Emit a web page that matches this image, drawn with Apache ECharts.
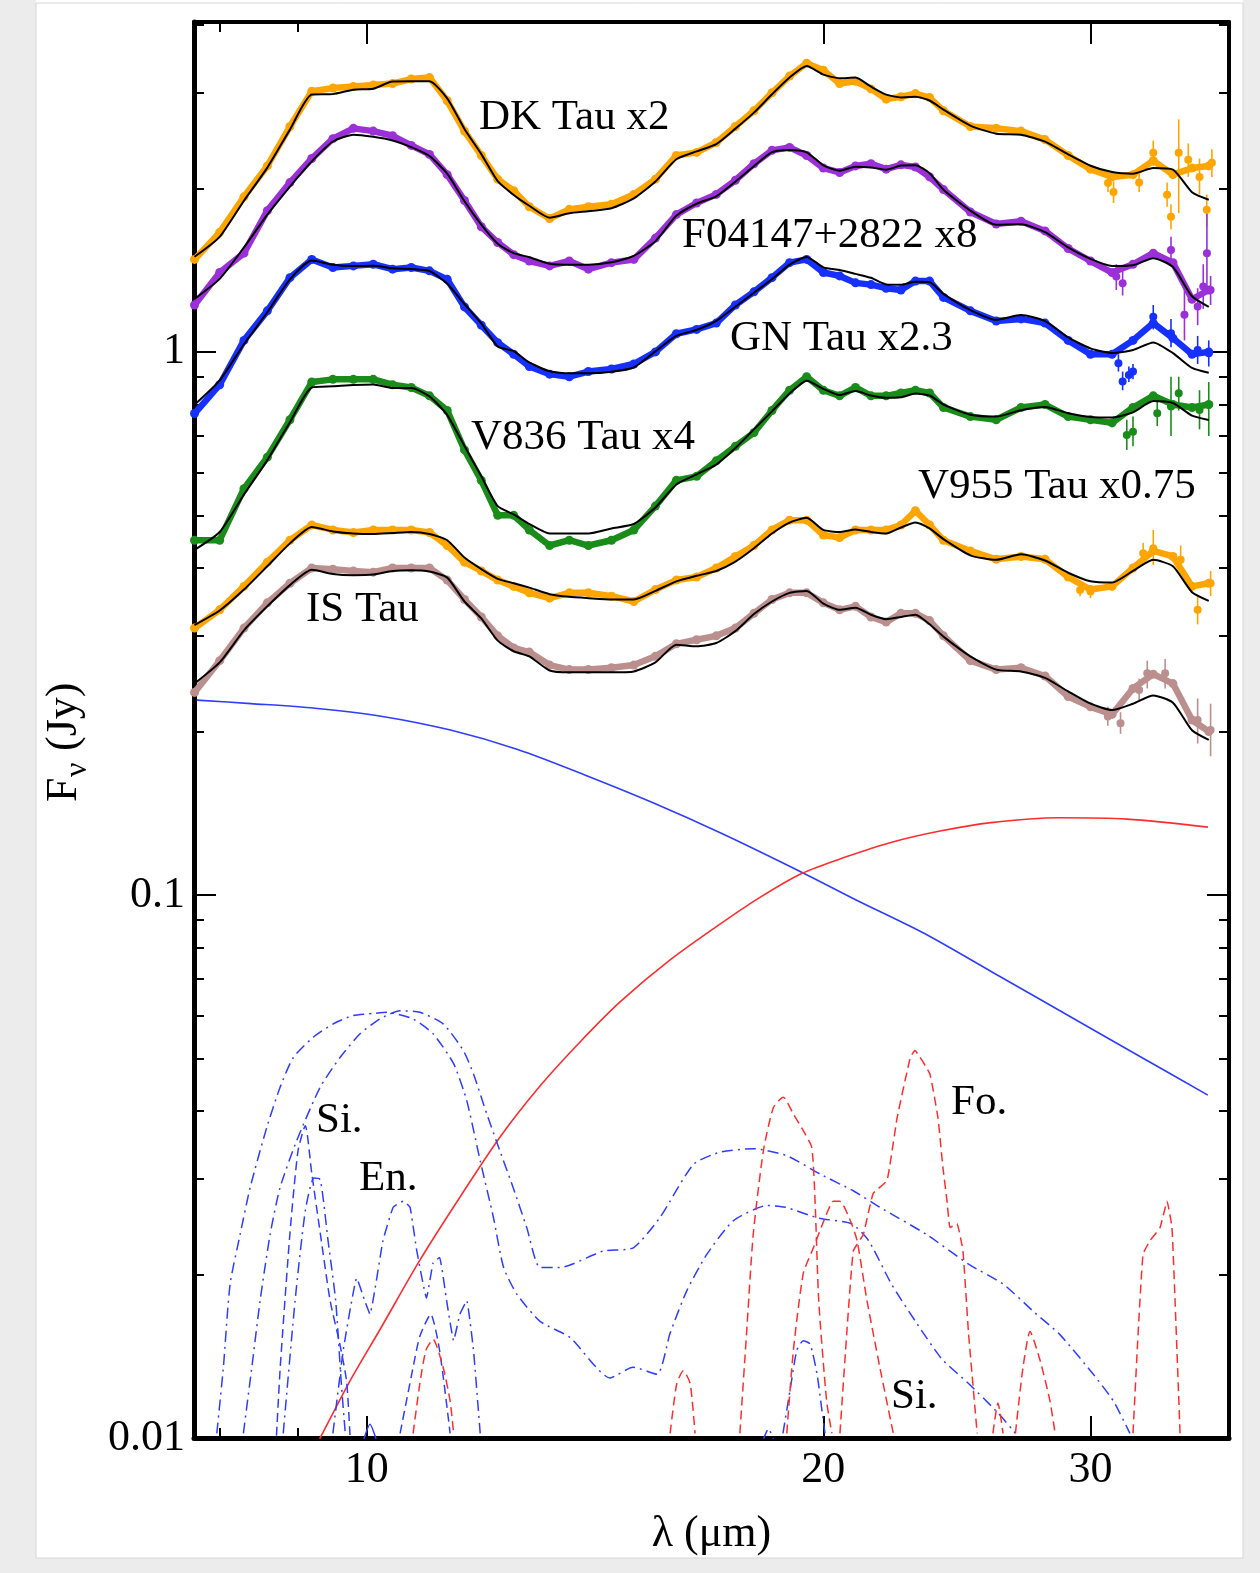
<!DOCTYPE html>
<html><head><meta charset="utf-8">
<script src="https://cdn.jsdelivr.net/npm/echarts@6/dist/echarts.min.js"></script>
<style>html,body{margin:0;padding:0;background:#fff}#c{width:1260px;height:1573px}</style>
</head><body><div id="c"></div><script>
// ---------------- data ----------------
const wavelength = [7.7,8.0,8.3,8.6,8.9,9.2,9.5,9.8,10.1,10.4,10.7,11.0,11.3,11.6,11.9,12.2,12.5,12.8,13.2,13.6,14.0,14.5,15.0,15.5,16.0,16.5,17.0,17.5,18.0,18.5,19.0,19.5,20.0,20.5,21.0,21.5,22.0,22.5,23.0,23.5,24.0,25.0,26.0,27.0,28.0,29.0,30.0,31.0,32.0,33.0,34.0,35.0,35.9];

const dkTauModel = [1.497,1.629,1.898,2.184,2.566,2.977,2.983,3.040,3.053,3.146,3.150,3.150,2.930,2.573,2.313,2.062,1.945,1.858,1.766,1.800,1.816,1.839,1.917,2.060,2.263,2.340,2.413,2.577,2.758,2.981,3.201,3.361,3.240,3.190,3.200,3.079,2.977,2.942,2.951,2.903,2.793,2.610,2.522,2.512,2.438,2.310,2.202,2.144,2.129,2.180,2.165,1.968,1.906];
const dkTauObs   = [1.48,1.66,1.93,2.20,2.60,3.02,3.06,3.08,3.10,3.12,3.18,3.20,2.90,2.55,2.30,2.08,1.98,1.85,1.76,1.83,1.85,1.87,1.95,2.08,2.30,2.33,2.43,2.60,2.78,3.00,3.22,3.40,3.30,3.12,3.15,3.05,2.92,2.95,2.99,2.94,2.78,2.60,2.58,2.55,2.46,2.30,2.17,2.10,2.12,2.25,2.12,2.18,2.20];
const dkTailLam = [30.81,31.07,32.3,33.0,33.7,33.9,34.3,34.8,35.4,35.79,36.07];
const dkTailVal = [2.047,1.97,2.05,2.326,1.946,1.773,2.326,2.258,2.10,1.826,2.229];
const dkTailLo  = [1.97,1.88,1.97,2.20,1.85,1.68,1.80,2.10,1.95,1.70,2.10];
const dkTailHi  = [2.13,2.06,2.13,2.45,2.05,1.87,2.68,2.42,2.27,1.95,2.36];

const f04147Model = [1.252,1.363,1.557,1.789,2.016,2.243,2.440,2.512,2.490,2.451,2.382,2.294,2.129,1.894,1.715,1.582,1.520,1.494,1.453,1.447,1.447,1.462,1.503,1.599,1.781,1.874,1.934,2.058,2.197,2.332,2.354,2.331,2.205,2.156,2.193,2.186,2.165,2.203,2.207,2.133,1.989,1.820,1.714,1.718,1.661,1.557,1.483,1.439,1.444,1.488,1.433,1.266,1.210];
const f04147Obs   = [1.22,1.40,1.52,1.82,2.05,2.27,2.47,2.58,2.55,2.50,2.40,2.31,2.12,1.90,1.70,1.59,1.51,1.47,1.44,1.47,1.42,1.46,1.48,1.62,1.79,1.88,1.95,2.07,2.22,2.35,2.38,2.30,2.18,2.14,2.20,2.22,2.17,2.21,2.19,2.10,1.99,1.81,1.72,1.74,1.67,1.55,1.47,1.40,1.45,1.52,1.46,1.25,1.30];
const f04TailLam = [31.2,31.5,33.9,34.6,35.3,35.6,35.8,36.0];
const f04TailVal = [1.376,1.338,1.541,1.170,1.212,1.319,1.520,1.300];
const f04TailLo  = [1.30,1.27,1.45,1.05,1.12,1.20,1.30,1.22];
const f04TailHi  = [1.45,1.41,1.63,1.30,1.31,1.45,1.80,1.38];

const gnTauModel = [0.799,0.886,1.033,1.183,1.360,1.473,1.447,1.439,1.441,1.426,1.421,1.409,1.335,1.225,1.128,1.023,1.003,0.956,0.921,0.913,0.913,0.919,0.936,1.002,1.070,1.098,1.141,1.211,1.285,1.361,1.448,1.496,1.431,1.415,1.392,1.369,1.331,1.329,1.346,1.344,1.279,1.194,1.146,1.169,1.139,1.063,1.015,0.995,1.008,1.041,0.995,0.934,0.915];
const gnTauObs   = [0.77,0.87,1.05,1.19,1.37,1.48,1.43,1.44,1.45,1.42,1.43,1.41,1.36,1.21,1.12,1.04,0.99,0.94,0.91,0.90,0.92,0.93,0.95,1.00,1.08,1.10,1.13,1.22,1.29,1.37,1.46,1.48,1.40,1.38,1.34,1.33,1.31,1.30,1.35,1.35,1.26,1.19,1.14,1.15,1.13,1.05,0.99,0.99,1.05,1.13,1.06,0.99,1.00];
const gnTailLam = [31.3,31.5,31.8,32.0,33.0,33.9,35.3,35.9];
const gnTailVal = [0.953,0.882,0.907,0.920,1.161,1.082,1.008,0.994];
const gnTailLo  = [0.92,0.85,0.88,0.89,1.10,1.02,0.95,0.94];
const gnTailHi  = [0.99,0.92,0.94,0.95,1.22,1.15,1.07,1.05];

const v836Model = [0.432,0.466,0.546,0.632,0.742,0.860,0.864,0.869,0.871,0.858,0.858,0.828,0.765,0.671,0.590,0.520,0.502,0.482,0.463,0.463,0.463,0.473,0.482,0.517,0.570,0.595,0.620,0.665,0.720,0.777,0.838,0.885,0.855,0.833,0.847,0.831,0.823,0.825,0.838,0.831,0.800,0.766,0.760,0.781,0.792,0.771,0.759,0.757,0.774,0.812,0.805,0.763,0.749];
const v836Obs   = [0.45,0.45,0.56,0.64,0.75,0.88,0.89,0.89,0.89,0.87,0.86,0.83,0.78,0.66,0.58,0.50,0.50,0.47,0.44,0.45,0.44,0.45,0.47,0.52,0.58,0.59,0.63,0.67,0.71,0.78,0.85,0.90,0.85,0.83,0.86,0.83,0.83,0.84,0.85,0.84,0.79,0.76,0.75,0.79,0.80,0.76,0.75,0.74,0.79,0.83,0.80,0.79,0.80];
const v836TailLam = [31.7,32.0,33.2,33.9,34.3,35.4,35.9];
const v836TailVal = [0.703,0.713,0.771,0.793,0.839,0.782,0.799];
const v836TailLo  = [0.66,0.67,0.73,0.70,0.78,0.72,0.70];
const v836TailHi  = [0.75,0.76,0.82,0.90,0.90,0.85,0.88];

const v955Model = [0.314,0.334,0.365,0.403,0.444,0.476,0.467,0.463,0.462,0.464,0.466,0.462,0.450,0.418,0.398,0.382,0.375,0.368,0.358,0.354,0.352,0.350,0.350,0.363,0.378,0.387,0.395,0.411,0.435,0.463,0.485,0.495,0.470,0.466,0.471,0.466,0.463,0.475,0.485,0.473,0.452,0.422,0.414,0.424,0.413,0.392,0.378,0.376,0.395,0.414,0.403,0.361,0.348];
const v955Obs   = [0.31,0.335,0.37,0.41,0.45,0.48,0.47,0.465,0.47,0.47,0.47,0.465,0.44,0.41,0.395,0.38,0.37,0.36,0.352,0.36,0.36,0.355,0.347,0.365,0.38,0.385,0.40,0.42,0.44,0.47,0.49,0.49,0.46,0.455,0.47,0.47,0.47,0.48,0.51,0.48,0.45,0.43,0.415,0.42,0.415,0.385,0.365,0.37,0.40,0.43,0.42,0.37,0.375];
const v955TailLam = [29.53,30.0,32.5,33.0,34.4,35.3,36.0];
const v955TailVal = [0.3645,0.362,0.4258,0.4347,0.414,0.335,0.375];
const v955TailLo  = [0.355,0.352,0.41,0.405,0.39,0.315,0.355];
const v955TailHi  = [0.375,0.372,0.445,0.47,0.44,0.355,0.395];

const isTauModel = [0.245,0.268,0.307,0.340,0.372,0.397,0.390,0.388,0.389,0.395,0.396,0.394,0.384,0.347,0.323,0.294,0.281,0.275,0.259,0.257,0.257,0.257,0.258,0.268,0.289,0.287,0.291,0.306,0.329,0.347,0.360,0.363,0.344,0.335,0.338,0.328,0.322,0.325,0.328,0.315,0.299,0.275,0.260,0.258,0.251,0.237,0.225,0.219,0.225,0.233,0.226,0.201,0.193];
const isTauObs   = [0.236,0.27,0.31,0.345,0.375,0.40,0.398,0.395,0.393,0.40,0.40,0.40,0.38,0.35,0.325,0.30,0.285,0.28,0.265,0.26,0.26,0.262,0.265,0.275,0.29,0.295,0.30,0.31,0.33,0.35,0.36,0.36,0.345,0.335,0.34,0.325,0.318,0.33,0.33,0.32,0.30,0.27,0.26,0.262,0.253,0.232,0.222,0.215,0.24,0.255,0.245,0.21,0.20];
const isTailLam = [30.8,31.4,32.3,32.7,33.6,35.3,36.0];
const isTailVal = [0.213,0.2071,0.2385,0.256,0.256,0.210,0.2013];
const isTailLo  = [0.205,0.198,0.228,0.24,0.24,0.19,0.18];
const isTailHi  = [0.222,0.217,0.25,0.27,0.272,0.23,0.225];

// continuum components
const starLam  = [7.725,8.386,9.245,10.22,11.356,12.576,13.95,15.43,17.13,19.38,21.02,23.30,25.80,27.80,30.14,32.47,35.85];
const starFlux = [0.2284,0.2251,0.2207,0.2134,0.2012,0.1853,0.1660,0.1480,0.1299,0.1099,0.0979,0.0850,0.0723,0.0642,0.0564,0.0501,0.0428];
const warmLam  = [9.259,9.340,9.750,10.204,10.843,11.522,12.244,13.009,13.824,14.690,15.849,17.124,18.166,19.365,20.678,22.130,23.875,25.794,28.600,31.709,35.855];
const warmFlux = [0.00967,0.01013,0.01274,0.01584,0.02128,0.02779,0.03584,0.04448,0.05361,0.06353,0.07591,0.08862,0.09895,0.1096,0.1174,0.1248,0.1311,0.1359,0.1387,0.1379,0.1333];

// broad silicate components (blue dash-dot)
const amoALam  = [7.965,8.045,8.127,8.252,8.378,8.592,8.767,8.946,9.221,9.506,9.799,10.10,10.31,10.73,11.06,11.41,11.64,11.88,12.12,12.31,12.56,13.01,13.62,14.47,14.98,15.54,15.85,16.26,16.76,17.44,18.36,18.88,19.86,20.88,21.42,22.18,23.00,23.93,24.93,26.09,26.77];
const amoAFlux = [0.0102,0.0135,0.0192,0.0237,0.0289,0.0373,0.0442,0.0502,0.0547,0.0579,0.0600,0.0605,0.0608,0.0591,0.0555,0.0489,0.0418,0.0324,0.0255,0.0206,0.0184,0.0164,0.0153,0.0129,0.0135,0.0131,0.0156,0.0187,0.0218,0.0251,0.0268,0.0266,0.0254,0.0248,0.0231,0.0192,0.0164,0.0140,0.0126,0.0111,0.0102];
const amoBLam  = [8.293,8.400,8.506,8.636,8.767,8.992,9.316,9.603,9.899,10.20,10.52,10.84,11.23,11.58,11.76,12.00,12.24,12.49,12.75,13.01,13.41,14.32,14.99,15.61,16.42,17.10,17.98,18.92,19.91,20.94,21.79,23.39,24.93,26.28,27.51,28.64,30.13,31.06,31.85];
const amoBFlux = [0.0102,0.0135,0.0179,0.0237,0.0289,0.0353,0.0442,0.0502,0.0555,0.0591,0.0612,0.0608,0.0579,0.0517,0.0468,0.0395,0.0338,0.0289,0.0244,0.0206,0.0206,0.0221,0.0224,0.0255,0.0319,0.0336,0.0341,0.0331,0.0306,0.0285,0.0266,0.0237,0.0209,0.0192,0.0171,0.0155,0.0131,0.0117,0.0102];

// narrow crystalline features (blue)
const si1Lam  = [8.72,8.77,8.90,9.01,9.11,9.20,9.32,9.46,9.60,9.70,9.75];
const si1Flux = [0.0101,0.0135,0.0238,0.0338,0.0376,0.0307,0.0238,0.0179,0.0149,0.0127,0.0101];
const si2Lam  = [8.81,8.97,9.11,9.23,9.32,9.43,9.54,9.62,9.68];
const si2Flux = [0.0102,0.0179,0.0262,0.0301,0.0299,0.0231,0.0179,0.0127,0.0102];
const enLam   = [9.50,9.65,9.85,9.97,10.05,10.25,10.41,10.57,10.68,10.79,10.95,11.06,11.17,11.29,11.41,11.52,11.64,11.76,11.88];
const enFlux  = [0.0102,0.0145,0.0197,0.0179,0.0169,0.0231,0.0266,0.0273,0.0266,0.0221,0.0181,0.0210,0.0215,0.0179,0.0151,0.0169,0.0179,0.0145,0.0102];
const en2Lam  = [10.52,10.73,10.84,11.02,11.17,11.35];
const en2Flux = [0.0102,0.0135,0.0154,0.0169,0.0145,0.0102];
const en3Lam  = [9.95,10.05,10.15];
const en3Flux = [0.0099,0.0106,0.0099];
const si3Lam  = [18.81,19.01,19.21,19.40,19.60,19.81,19.96,20.05];
const si3Flux = [0.0102,0.0122,0.0145,0.0151,0.0149,0.0131,0.0112,0.0102];
const si4Lam  = [18.25,18.40,18.55];
const si4Flux = [0.0099,0.0104,0.0099];

// forsterite / silica features (red dashed)
const fo0Lam  = [10.73,10.84,10.94,11.06,11.23,11.35,11.41];
const fo0Flux = [0.0102,0.0126,0.0145,0.0152,0.0135,0.0117,0.0102];
const fo1Lam  = [15.85,16.01,16.17,16.34,16.46];
const fo1Flux = [0.0102,0.0126,0.0133,0.0126,0.0102];
const fo2Lam  = [17.62,17.80,17.98,18.26,18.54,18.82,19.11,19.40,19.65,19.75,19.86,20.10,20.26];
const fo2Flux = [0.0102,0.0156,0.0237,0.0338,0.0406,0.0424,0.0395,0.0368,0.0343,0.0273,0.0179,0.0117,0.0102];
const fo3Lam  = [18.92,19.11,19.40,19.70,20.08,20.31,20.51,20.84,21.05,21.37,21.79,22.24];
const fo3Flux = [0.0102,0.0145,0.0201,0.0224,0.0257,0.0273,0.0273,0.0251,0.0231,0.0179,0.0135,0.0102];
const fo4Lam  = [20.51,20.73,20.93,21.25,21.57,22.03,22.37,22.82,22.98,23.51,23.80,23.98,24.13,24.24,24.50,24.72,24.93,25.26];
const fo4Flux = [0.0102,0.0158,0.0221,0.0237,0.0282,0.0298,0.0389,0.0502,0.0517,0.0468,0.0389,0.0315,0.0273,0.0244,0.0248,0.0221,0.0156,0.0102];
const fo5Lam  = [25.87,26.07,26.27];
const fo5Flux = [0.0102,0.0116,0.0102];
const fo6Lam  = [26.77,27.08,27.37,27.79,28.21,28.43];
const fo6Flux = [0.0102,0.0135,0.0157,0.0139,0.0117,0.0102];
const fo7Lam  = [32.00,32.25,32.49,32.84,33.34,33.70,33.95,34.11,34.37];
const fo7Flux = [0.0102,0.0156,0.0218,0.0231,0.0244,0.0273,0.0244,0.0179,0.0102];

// axes ticks
const xMajorTicks = [10,20,30];
const xMinorTicks = [8,9];
const yMajorTicks = [0.01,0.1,1];
const yMinorTicks = [0.02,0.03,0.04,0.05,0.06,0.07,0.08,0.09,0.2,0.3,0.4,0.5,0.6,0.7,0.8,0.9,2,3,4];

// ---------------- chart ----------------
const X_MIN = 7.694, X_MAX = 37.02, Y_MIN = 0.01, Y_MAX = 4.05;
const SERIF = '"Liberation Serif", "Times New Roman", serif';
const BLUE = '#2f3dff', RED = '#ff2d2d';
const DASH = [9, 5];
const DASHDOT = [11, 5, 2, 5];

function pairs(lam, val) { return lam.map((l, i) => [l, val[i]]); }

function xAxisDef(pos, ticks, len, lineW, labels) {
  return {
    type: 'log', logBase: 10, min: X_MIN, max: X_MAX, position: pos,
    axisLine: { show: lineW > 0, onZero: false, lineStyle: { color: '#000', width: lineW || 1 } },
    axisTick: { show: true, inside: true, length: len, customValues: ticks, lineStyle: { color: '#000', width: 2 } },
    axisLabel: labels ? { show: true, customValues: labels, margin: 10, color: '#000', fontFamily: SERIF, fontSize: 44,
      formatter: v => String(Math.round(v)) } : { show: false },
    splitLine: { show: false }, minorTick: { show: false }, minorSplitLine: { show: false }
  };
}
function yAxisDef(pos, ticks, len, lineW, labels) {
  return {
    type: 'log', logBase: 10, min: Y_MIN, max: Y_MAX, position: pos,
    axisLine: { show: lineW > 0, onZero: false, lineStyle: { color: '#000', width: lineW || 1 } },
    axisTick: { show: true, inside: true, length: len, customValues: ticks, lineStyle: { color: '#000', width: 2 } },
    axisLabel: labels ? { show: true, customValues: labels, margin: 9, color: '#000', fontFamily: SERIF, fontSize: 44,
      formatter: v => (v >= 1 ? '1' : (v >= 0.1 ? '0.1' : '0.01')) } : { show: false },
    splitLine: { show: false }, minorTick: { show: false }, minorSplitLine: { show: false }
  };
}

function compLine(lam, val, color, dash, width, smooth) {
  return { type: 'line', data: pairs(lam, val), showSymbol: false, smooth: smooth || false,
    lineStyle: { color, width: width || 1.6, type: dash || 'solid' }, z: 2, silent: true };
}
function obsSeries(val, color) {
  return { type: 'line', data: pairs(wavelength, val), showSymbol: true, showAllSymbol: true,
    symbol: 'circle', symbolSize: 9, itemStyle: { color, opacity: 1 },
    lineStyle: { color, width: 6.5 }, z: 3, silent: true };
}
function tailPoints(lam, val, color) {
  return { type: 'scatter', data: pairs(lam, val), symbol: 'circle', symbolSize: 8,
    itemStyle: { color, opacity: 1 }, z: 3, silent: true };
}
function errorBars(lam, lo, hi, color) {
  return { type: 'custom', silent: true, z: 3,
    data: lam.map((l, i) => [l, lo[i], hi[i]]),
    renderItem: function (params, api) {
      const p1 = api.coord([api.value(0), api.value(1)]);
      const p2 = api.coord([api.value(0), api.value(2)]);
      return { type: 'line', shape: { x1: p1[0], y1: p1[1], x2: p2[0], y2: p2[1] },
        style: { stroke: color, lineWidth: 1.6 } };
    } };
}
function modelSeries(val) {
  return { type: 'line', data: pairs(wavelength, val), showSymbol: false, smooth: 0.2,
    lineStyle: { color: '#000', width: 2 }, z: 4, silent: true };
}

const ORANGE = '#ffa500', PURPLE = '#9b30d9', BLUEDOT = '#1530ff', GREEN = '#1a8c1a', ROSY = '#bc8f8f';
const series = [
  compLine(starLam, starFlux, BLUE, 'solid', 1.6, 0.3),
  compLine(warmLam, warmFlux, RED, 'solid', 1.6, 0.3),
  compLine(amoALam, amoAFlux, BLUE, DASHDOT, 1.5, 0.2),
  compLine(amoBLam, amoBFlux, BLUE, DASHDOT, 1.5, 0.2),
  compLine(si1Lam, si1Flux, BLUE, DASH, 1.5, 0.2),
  compLine(si2Lam, si2Flux, BLUE, DASHDOT, 1.5, 0.2),
  compLine(enLam, enFlux, BLUE, DASHDOT, 1.5, 0.1),
  compLine(en2Lam, en2Flux, BLUE, DASH, 1.5, 0.2),
  compLine(en3Lam, en3Flux, BLUE, 'solid', 1.5, 0.2),
  compLine(si3Lam, si3Flux, BLUE, DASHDOT, 1.5, 0.2),
  compLine(si4Lam, si4Flux, BLUE, DASHDOT, 1.5, 0.2),
  compLine(fo0Lam, fo0Flux, RED, DASH, 1.5, 0.2),
  compLine(fo1Lam, fo1Flux, RED, DASH, 1.5, 0.2),
  compLine(fo2Lam, fo2Flux, RED, DASH, 1.5, 0.2),
  compLine(fo3Lam, fo3Flux, RED, DASH, 1.5, 0.2),
  compLine(fo4Lam, fo4Flux, RED, DASH, 1.5, 0.1),
  compLine(fo5Lam, fo5Flux, RED, DASH, 1.5, 0.2),
  compLine(fo6Lam, fo6Flux, RED, DASH, 1.5, 0.2),
  compLine(fo7Lam, fo7Flux, RED, DASH, 1.5, 0.1),

  errorBars(dkTailLam, dkTailLo, dkTailHi, ORANGE), tailPoints(dkTailLam, dkTailVal, ORANGE),
  obsSeries(dkTauObs, ORANGE), modelSeries(dkTauModel),
  errorBars(f04TailLam, f04TailLo, f04TailHi, PURPLE), tailPoints(f04TailLam, f04TailVal, PURPLE),
  obsSeries(f04147Obs, PURPLE), modelSeries(f04147Model),
  errorBars(gnTailLam, gnTailLo, gnTailHi, BLUEDOT), tailPoints(gnTailLam, gnTailVal, BLUEDOT),
  obsSeries(gnTauObs, BLUEDOT), modelSeries(gnTauModel),
  errorBars(v836TailLam, v836TailLo, v836TailHi, GREEN), tailPoints(v836TailLam, v836TailVal, GREEN),
  obsSeries(v836Obs, GREEN), modelSeries(v836Model),
  errorBars(v955TailLam, v955TailLo, v955TailHi, ORANGE), tailPoints(v955TailLam, v955TailVal, ORANGE),
  obsSeries(v955Obs, ORANGE), modelSeries(v955Model),
  errorBars(isTailLam, isTailLo, isTailHi, ROSY), tailPoints(isTailLam, isTailVal, ROSY),
  obsSeries(isTauObs, ROSY), modelSeries(isTauModel)
];

function label(text, x, y) {
  return { type: 'text', x, y, z: 100, style: { text, fill: '#000', font: '43px ' + SERIF,
    textAlign: 'left', textVerticalAlign: 'middle', align: 'left', verticalAlign: 'middle' } };
}

const option = {
  backgroundColor: '#ffffff',
  animation: false,
  grid: { left: 194, right: 31, top: 22, bottom: 135, containLabel: false },
  xAxis: [
    Object.assign(xAxisDef('bottom', xMajorTicks, 22, 5, xMajorTicks), {
      name: 'λ (μm)', nameLocation: 'middle', nameGap: 74,
      nameTextStyle: { color: '#000', fontFamily: SERIF, fontSize: 44 } }),
    xAxisDef('bottom', xMinorTicks, 10, 0, null),
    xAxisDef('top', xMajorTicks, 22, 4, null),
    xAxisDef('top', xMinorTicks, 10, 0, null)
  ],
  yAxis: [
    yAxisDef('left', yMajorTicks, 22, 5, yMajorTicks),
    yAxisDef('left', yMinorTicks, 10, 0, null),
    yAxisDef('right', yMajorTicks, 22, 4, null),
    yAxisDef('right', yMinorTicks, 10, 0, null)
  ],
  series: series,
  graphic: [
    { type: 'rect', shape: { x: 0, y: 0, width: 36, height: 1573 }, style: { fill: '#ececec' }, z: -10, silent: true },
    { type: 'rect', shape: { x: 1243, y: 0, width: 17, height: 1573 }, style: { fill: '#ececec' }, z: -10, silent: true },
    { type: 'rect', shape: { x: 0, y: 1558, width: 1260, height: 15 }, style: { fill: '#ececec' }, z: -10, silent: true },
    { type: 'rect', shape: { x: 36, y: 3, width: 1207, height: 1555 }, style: { fill: '#ffffff', stroke: '#d6d6d6', lineWidth: 1 }, z: -9, silent: true },
    label('DK Tau x2', 479, 118),
    label('F04147+2822 x8', 682, 236),
    label('GN Tau x2.3', 730, 339),
    label('V836 Tau x4', 471, 438),
    label('V955 Tau x0.75', 918, 487),
    label('IS Tau', 306, 610),
    label('Si.', 316, 1121),
    label('En.', 359, 1179),
    label('Fo.', 951, 1103),
    label('Si.', 891, 1397),
    { type: 'group', x: 64, y: 742, rotation: Math.PI / 2, z: 100, children: [
      { type: 'text', x: -60, y: 0, style: { text: 'F', fill: '#000', font: '44px ' + SERIF, textAlign: 'left', textVerticalAlign: 'middle', align: 'left', verticalAlign: 'middle' } },
      { type: 'text', x: -35, y: 14, style: { text: 'ν', fill: '#000', font: '32px ' + SERIF, textAlign: 'left', textVerticalAlign: 'middle', align: 'left', verticalAlign: 'middle' } },
      { type: 'text', x: -9, y: 0, style: { text: '(Jy)', fill: '#000', font: '44px ' + SERIF, textAlign: 'left', textVerticalAlign: 'middle', align: 'left', verticalAlign: 'middle' } }
    ] }
  ]
};

const chart = echarts.init(document.getElementById('c'), null, { renderer: 'canvas', width: 1260, height: 1573 });
chart.setOption(option);
</script></body></html>
